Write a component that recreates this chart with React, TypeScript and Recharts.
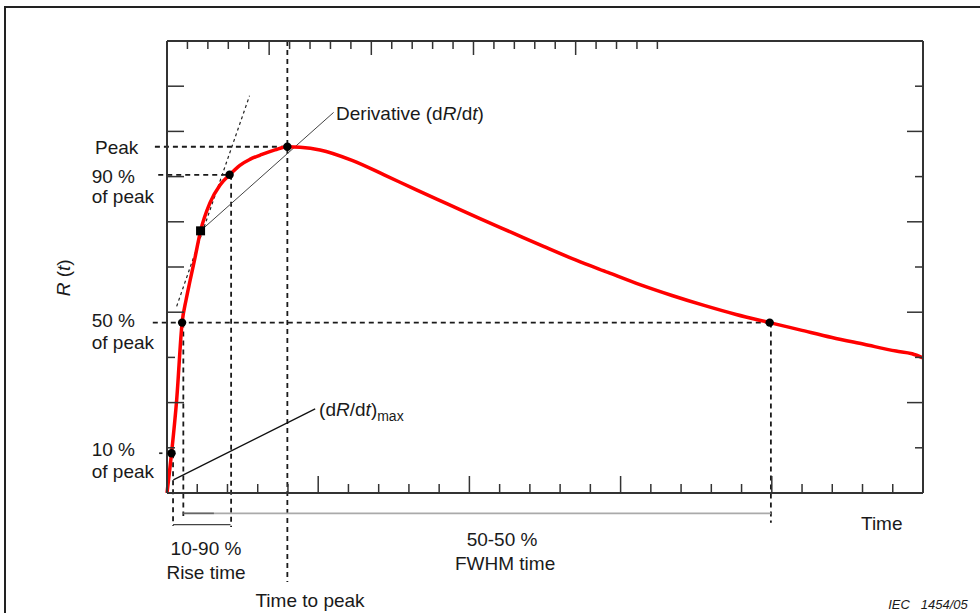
import React from 'react';
import { ComposedChart, Line, Scatter, XAxis, YAxis, ReferenceLine, ReferenceDot } from 'recharts';

// ---- data (time in tick units, R(t) in tick units) ----
const timeTicks = [0, 1, 2, 3, 4, 5, 6, 7, 8, 9, 10, 11, 12, 13, 14, 15, 16, 17, 18, 19, 20, 21, 22, 23, 24, 25];
const rTicks = [0, 1, 2, 3, 4, 5, 6, 7, 8, 9, 10];

const curveTime = [0, 0.15, 0.32, 0.5, 0.63, 0.76, 0.93, 1.11, 1.42, 1.75, 2.07, 2.41, 2.74, 3.14, 3.57, 3.98, 4.4, 5.06, 6.12, 7.18, 8.23, 9.29, 10.35, 11.41, 12.47, 13.53, 14.58, 15.64, 16.7, 17.76, 18.82, 19.93, 20.93, 21.99, 23.05, 24.11, 24.64, 25];
const curveR = [0, 0.88, 2.06, 3.77, 4.27, 4.69, 5.22, 5.8, 6.42, 6.81, 7.04, 7.25, 7.38, 7.49, 7.59, 7.66, 7.65, 7.59, 7.36, 7.04, 6.71, 6.39, 6.07, 5.76, 5.45, 5.15, 4.88, 4.61, 4.37, 4.15, 3.95, 3.77, 3.61, 3.44, 3.29, 3.14, 3.08, 2.99];

// key points: 10 %, 50 % (rise), max derivative, 90 %, peak, 50 % (fall)
const keyTime = [0.15, 0.5, 1.11, 2.07, 3.98, 19.93];
const keyR = [0.88, 3.77, 5.8, 7.04, 7.66, 3.77];
const keyMarker = ['circle', 'circle', 'square', 'circle', 'circle', 'circle'];

// guide extents
const labelSideTime = [-0.4, -0.29, -0.47]; // peak, 90 %, 50 % dashed lines start
const belowAxisR = [-0.73, -0.51, -0.75, -1.97, -0.66]; // 10 %, 50 % rise, 90 %, peak, 50 % fall
const tangentTime = [0.32, 2.73];
const tangentR = [4.13, 8.79];
const derivLeader = [1.11, 5.8, 5.51, 8.42];
const maxLeader = [0.21, 0.29, 4.9, 1.86];
const fwhmBar = [0.55, 19.97, -0.45];
const riseBar = [0.2, 2.1, -0.7];

const labelText = ['Peak', '90 %', 'of peak', '50 %', 'of peak', '10 %', 'of peak', 'Time', '10-90 %', 'Rise time', 'Time to peak', '50-50 %', 'FWHM time'];
const labelTime = [-2.38, -2.49, -2.49, -2.49, -2.49, -2.49, -2.49, 22.95, 1.29, 1.29, 4.73, 11.08, 11.18];
const labelR = [7.66, 7.02, 6.56, 3.83, 3.34, 0.97, 0.49, -0.66, -1.21, -1.75, -2.37, -1.02, -1.56];
const labelAnchor = ['start', 'start', 'start', 'start', 'start', 'start', 'start', 'start', 'middle', 'middle', 'middle', 'middle', 'middle'];

const curveData = curveTime.map((x, i) => ({ x, y: curveR[i] }));
const keyData = keyTime.map((x, i) => ({ x, y: keyR[i], marker: keyMarker[i] }));

const FONT = '"Liberation Sans", Arial, Helvetica, sans-serif';
const FS = 19;
const TXT = '#1a1a1a';
const AX = '#333';

const BottomTick = (p: any) => {
  const v = p.payload.value;
  if (v === 0 || v === 25) return <g />;
  const len = v % 5 === 0 ? 17 : 9;
  return <line x1={p.x} y1={p.y} x2={p.x} y2={p.y - len} stroke={AX} strokeWidth={1.5} />;
};
const TopTick = (p: any) => {
  const v = p.payload.value;
  if (v === 0 || v === 25) return <g />;
  const len = v % 5 === 0 ? 14 : 8;
  return <line x1={p.x} y1={p.y} x2={p.x} y2={p.y + len} stroke={AX} strokeWidth={1.5} />;
};
const LeftTick = (p: any) => {
  const v = p.payload.value;
  if (v === 0 || v === 10) return <g />;
  const len = v === 1 || v === 3 ? 8 : 17;
  return <line x1={p.x} y1={p.y} x2={p.x + len} y2={p.y} stroke={AX} strokeWidth={1.5} />;
};
const RightTick = (p: any) => {
  const v = p.payload.value;
  if (v === 0 || v === 10) return <g />;
  const len = v % 2 === 1 ? 8 : 16;
  return <line x1={p.x} y1={p.y} x2={p.x - len} y2={p.y} stroke={AX} strokeWidth={1.5} />;
};

const KeyMarker = (p: any) => {
  const kind = (p.payload && p.payload.marker) || p.marker;
  if (kind === 'square') {
    return <rect x={p.cx - 4.5} y={p.cy - 4.5} width={9} height={9} fill="#000" />;
  }
  return <circle cx={p.cx} cy={p.cy} r={4.2} fill="#000" />;
};

const dash = { stroke: '#1a1a1a', strokeWidth: 1.8, strokeDasharray: '5 4' };

export default function App() {
  return (
    <div style={{ position: 'absolute', left: 0, top: 0, width: 980, height: 613, background: '#fff', overflow: 'hidden' }}>
      <div style={{ position: 'absolute', left: 4, top: 6, width: 990, height: 620, borderTop: '2px solid #222', borderLeft: '2px solid #222' }} />
      <div style={{ position: 'absolute', left: 0, top: 0 }}>
        <ComposedChart width={980} height={613} data={curveData} margin={{ top: 40, right: 56, bottom: 119, left: 166 }}>
          <XAxis type="number" dataKey="x" domain={[0, 25]} ticks={timeTicks} interval={0} height={1} tickSize={0} tickMargin={0}
            axisLine={{ stroke: AX, strokeWidth: 2 }} tickLine={false} tick={BottomTick} />
          <XAxis xAxisId="top" orientation="top" type="number" domain={[0, 25]} allowDataOverflow ticks={timeTicks} interval={0} height={1}
            tickSize={0} tickMargin={0} axisLine={{ stroke: AX, strokeWidth: 2 }} tickLine={false} tick={TopTick} />
          <YAxis type="number" dataKey="y" domain={[0, 10]} ticks={rTicks} interval={0} width={1} tickSize={0} tickMargin={0}
            axisLine={{ stroke: AX, strokeWidth: 2 }} tickLine={false} tick={LeftTick} />
          <YAxis yAxisId="right" orientation="right" type="number" domain={[0, 10]} allowDataOverflow ticks={rTicks} interval={0} width={1}
            tickSize={0} tickMargin={0} axisLine={{ stroke: AX, strokeWidth: 2 }} tickLine={false} tick={RightTick} />

          {/* horizontal dashed guides */}
          <ReferenceLine ifOverflow="visible" segment={[{ x: labelSideTime[0], y: keyR[4] }, { x: keyTime[4], y: keyR[4] }]} {...dash} />
          <ReferenceLine ifOverflow="visible" segment={[{ x: labelSideTime[1], y: keyR[3] }, { x: keyTime[3], y: keyR[3] }]} {...dash} />
          <ReferenceLine ifOverflow="visible" segment={[{ x: labelSideTime[2], y: keyR[1] }, { x: keyTime[5], y: keyR[5] }]} {...dash} />
          <ReferenceLine ifOverflow="visible" segment={[{ x: -0.26, y: keyR[0] }, { x: -0.15, y: keyR[0] }]} stroke="#222" strokeWidth={1.7} />

          {/* vertical dashed guides */}
          <ReferenceLine ifOverflow="visible" segment={[{ x: keyTime[0] + 0.05, y: keyR[0] }, { x: keyTime[0] + 0.05, y: belowAxisR[0] }]} {...dash} />
          <ReferenceLine ifOverflow="visible" segment={[{ x: keyTime[1] + 0.04, y: keyR[1] }, { x: keyTime[1] + 0.04, y: belowAxisR[1] }]} {...dash} />
          <ReferenceLine ifOverflow="visible" segment={[{ x: keyTime[3] + 0.05, y: keyR[3] }, { x: keyTime[3] + 0.05, y: belowAxisR[2] }]} {...dash} />
          <ReferenceLine ifOverflow="visible" segment={[{ x: keyTime[4], y: 10 }, { x: keyTime[4], y: belowAxisR[3] }]} {...dash} />
          <ReferenceLine ifOverflow="visible" segment={[{ x: keyTime[5] + 0.04, y: keyR[5] }, { x: keyTime[5] + 0.04, y: belowAxisR[4] }]} {...dash} />

          {/* tangent */}
          <ReferenceLine ifOverflow="visible" segment={[{ x: tangentTime[0], y: tangentR[0] }, { x: tangentTime[1], y: tangentR[1] }]}
            stroke="#222" strokeWidth={1.2} strokeDasharray="3 3" />
          {/* leaders */}
          <ReferenceLine ifOverflow="visible" segment={[{ x: derivLeader[0], y: derivLeader[1] }, { x: derivLeader[2], y: derivLeader[3] }]}
            stroke="#444" strokeWidth={1} />
          <ReferenceLine ifOverflow="visible" segment={[{ x: maxLeader[0], y: maxLeader[1] }, { x: maxLeader[2], y: maxLeader[3] }]}
            stroke="#111" strokeWidth={1.3} />
          {/* interval bars */}
          <ReferenceLine ifOverflow="visible" segment={[{ x: fwhmBar[0], y: fwhmBar[2] }, { x: fwhmBar[1], y: fwhmBar[2] }]}
            stroke="#aaa" strokeWidth={1.6} />
          <ReferenceLine ifOverflow="visible" segment={[{ x: fwhmBar[0], y: fwhmBar[2] }, { x: fwhmBar[0] + 1, y: fwhmBar[2] }]}
            stroke="#666" strokeWidth={1.6} />
          <ReferenceLine ifOverflow="visible" segment={[{ x: riseBar[0], y: riseBar[2] }, { x: riseBar[1], y: riseBar[2] }]}
            stroke="#444" strokeWidth={1.2} />

          <Line dataKey="y" type="monotone" stroke="#ff0000" strokeWidth={3.5} dot={false} activeDot={false} isAnimationActive={false} />
          <Scatter data={keyData} shape={KeyMarker} isAnimationActive={false} />

          {labelText.map((t, i) => (
            <ReferenceDot key={'l' + i} ifOverflow="visible" x={labelTime[i]} y={labelR[i]} r={0}
              shape={(p: any) => (
                <text x={p.cx} y={p.cy} dy="0.36em" textAnchor={labelAnchor[i]} fontFamily={FONT} fontSize={FS} fill={TXT}>{t}</text>
              )} />
          ))}
          <ReferenceDot ifOverflow="visible" x={5.59} y={8.4} r={0}
            shape={(p: any) => (
              <text x={p.cx} y={p.cy} dy="0.36em" fontFamily={FONT} fontSize={FS} fill={TXT}>
                Derivative (d<tspan fontStyle="italic">R</tspan>/d<tspan fontStyle="italic">t</tspan>)
              </text>
            )} />
          <ReferenceDot ifOverflow="visible" x={5.03} y={1.86} r={0}
            shape={(p: any) => (
              <text x={p.cx} y={p.cy} dy="0.36em" fontFamily={FONT} fontSize={FS} fill={TXT}>
                (d<tspan fontStyle="italic">R</tspan>/d<tspan fontStyle="italic">t</tspan>)<tspan fontSize={14} dy={5}>max</tspan>
              </text>
            )} />
          <ReferenceDot ifOverflow="visible" x={-3.45} y={4.76} r={0}
            shape={(p: any) => (
              <text x={p.cx} y={p.cy} dy="0.36em" textAnchor="middle" transform={`rotate(-90 ${p.cx} ${p.cy})`} fontFamily={FONT} fontSize={FS} fill={TXT}>
                <tspan fontStyle="italic">R</tspan> (<tspan fontStyle="italic">t</tspan>)
              </text>
            )} />
          <ReferenceDot ifOverflow="visible" x={26.48} y={-2.47} r={0}
            shape={(p: any) => (
              <text x={p.cx} y={p.cy} dy="0.36em" textAnchor="end" fontFamily={FONT} fontSize={13} fontStyle="italic" fill={TXT} xmlSpace="preserve">
                {'IEC   1454/05'}
              </text>
            )} />
        </ComposedChart>
      </div>
    </div>
  );
}
